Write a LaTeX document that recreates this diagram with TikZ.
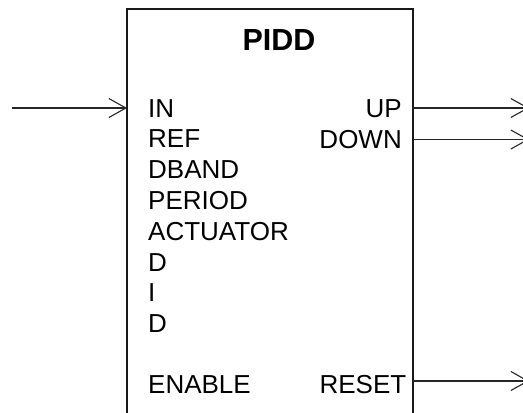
\documentclass[tikz,border=0pt]{standalone}
\usepackage{fontspec}
\setmainfont{Liberation Sans}
\usetikzlibrary{arrows.meta}
\begin{document}
\begin{tikzpicture}[x=1pt,y=-1pt,
  pin/.style={font=\fontsize{26}{26}\selectfont, inner sep=0pt},
  lpin/.style={pin, anchor=base west},
  rpin/.style={pin, anchor=base east},
  wire/.style={line width=1.3pt, draw=black!85, -{Straight Barb[length=17pt,width=19pt,line width=1.1pt]}},
  fb/.style={line width=2pt, draw=black!90}]
\clip (0,0) rectangle (523,413);
% function block (open at bottom)
\draw[fb] (127,420) -- (127,9) -- (413,9) -- (413,420);
\node[font=\fontsize{30.5}{30.5}\selectfont\bfseries, inner sep=0pt, anchor=base] (title) at (279,50) {PIDD};
% inputs
\node[lpin] (in) at (148,117) {IN};
\node[lpin] (ref) at (148,147.8) {REF};
\node[lpin] (dband) at (148,178.6) {DBAND};
\node[lpin] (period) at (148,209.4) {PERIOD};
\node[lpin] (act) at (148,240.2) {ACTUATOR};
\node[lpin] (d1) at (148,271) {D};
\node[lpin] (i1) at (148,301.8) {I};
\node[lpin] (d2) at (148,332.6) {D};
\node[lpin] (en) at (148,393.5) {ENABLE};
% outputs
\node[rpin] (up) at (402,117.5) {UP};
\node[rpin] (down) at (402,148.3) {DOWN};
\node[rpin] (reset) at (406.5,393.5) {RESET};
% ports
\coordinate (srcIN) at (12,108);
\coordinate (pIN) at (127,108);
\coordinate (pUP) at (413,108);
\coordinate (pDOWN) at (413,139.5);
\coordinate (pRESET) at (413,381);
\coordinate (dUP) at (529,108);
\coordinate (dDOWN) at (529,139.5);
\coordinate (dRESET) at (529,381);
\draw[wire] (srcIN) -- (pIN);
\draw[wire] (pUP) -- (dUP);
\draw[wire] (pDOWN) -- (dDOWN);
\draw[wire] (pRESET) -- (dRESET);
\end{tikzpicture}
\end{document}
